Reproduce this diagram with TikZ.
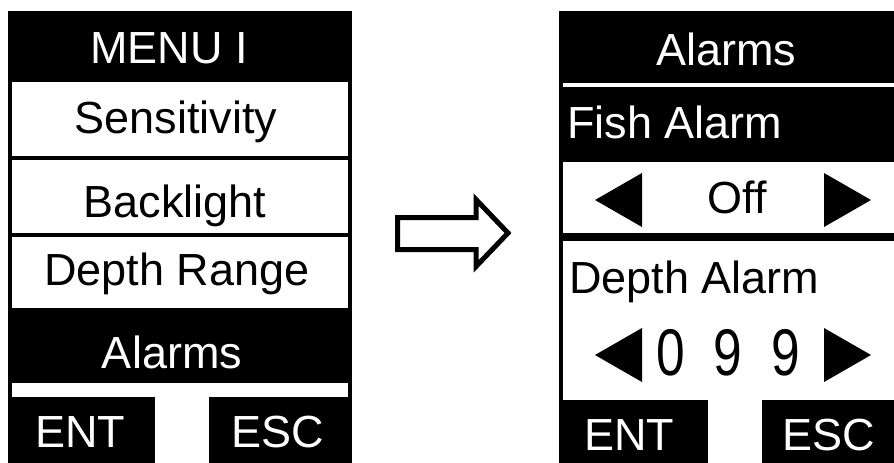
\documentclass[tikz,border=0pt]{standalone}
\usepackage{fontspec}
\setmainfont{Liberation Sans}

\begin{document}
\begin{tikzpicture}[x=1pt,y=-1pt,
   lcd/.style={inner sep=0pt,font=\fontsize{45}{45}\selectfont},
   lcdw/.style={lcd,text=white},
   digit/.style={inner sep=0pt,anchor=base,font=\fontsize{66}{66}\selectfont},
   blank/.style={fill=white},
   pane/.style={fill=black}]
   \useasboundingbox (0,0) rectangle (894,463);

   \fill[pane] (8,11) rectangle (352,463);
   \fill[blank] (12,82) rectangle (348,156);
   \fill[blank] (12,160) rectangle (348,233);
   \fill[blank] (12,237) rectangle (348,308);
   \fill[blank] (12,383) rectangle (348,397);
   \fill[blank] (155,397) rectangle (209,463);

   \node[lcdw,anchor=base] (title) at (169,63) {MENU I};
   \node[lcd,anchor=base] (sens) at (176,133) {Sensitivity};
   \node[lcd,anchor=base] (light) at (175,217) {Backlight};
   \node[lcd,anchor=base] (range) at (177,285) {Depth Range};
   \node[lcdw,anchor=base] (alarms) at (172,368) {Alarms};
   \node[lcdw,anchor=base] (ent1) at (80,447) {ENT};
   \node[lcdw,anchor=base] (esc1) at (278,447) {ESC};

   \draw[line width=5pt,miter limit=10] (397.5,217.5) -- (476,217.5) -- (476,199.5)
      -- (508,233) -- (476,266.5) -- (476,249.5) -- (397.5,249.5) -- cycle;

   \fill[pane] (559,11) rectangle (894,463);
   \fill[blank] (563,83) rectangle (894,87);
   \fill[blank] (563,162) rectangle (894,233);
   \fill[blank] (563,241) rectangle (894,400);
   \fill[blank] (708,400) rectangle (762,463);

   \fill (595,200) -- (642,173) -- (642,227) -- cycle;
   \fill (871,200) -- (824,173) -- (824,227) -- cycle;
   \fill (595,355) -- (642,328) -- (642,382) -- cycle;
   \fill (871,355) -- (824,328) -- (824,382) -- cycle;

   \node[lcdw,anchor=base] (head) at (726,65) {Alarms};
   \node[lcdw,anchor=base west] (fish) at (567,138) {Fish Alarm};
   \node[lcd,anchor=base] (off) at (737,213) {Off};
   \node[lcd,anchor=base west] (depth) at (569,293) {Depth Alarm};
   \foreach \d/\x [count=\i] in {0/671,9/728,9/786}
      \node[digit] (d\i) at (\x,375) {\scalebox{0.78}[1]{\d}};
   \node[lcdw,anchor=base] (ent2) at (629,450) {ENT};
   \node[lcdw,anchor=base] (esc2) at (829,450) {ESC};
\end{tikzpicture}
\end{document}
